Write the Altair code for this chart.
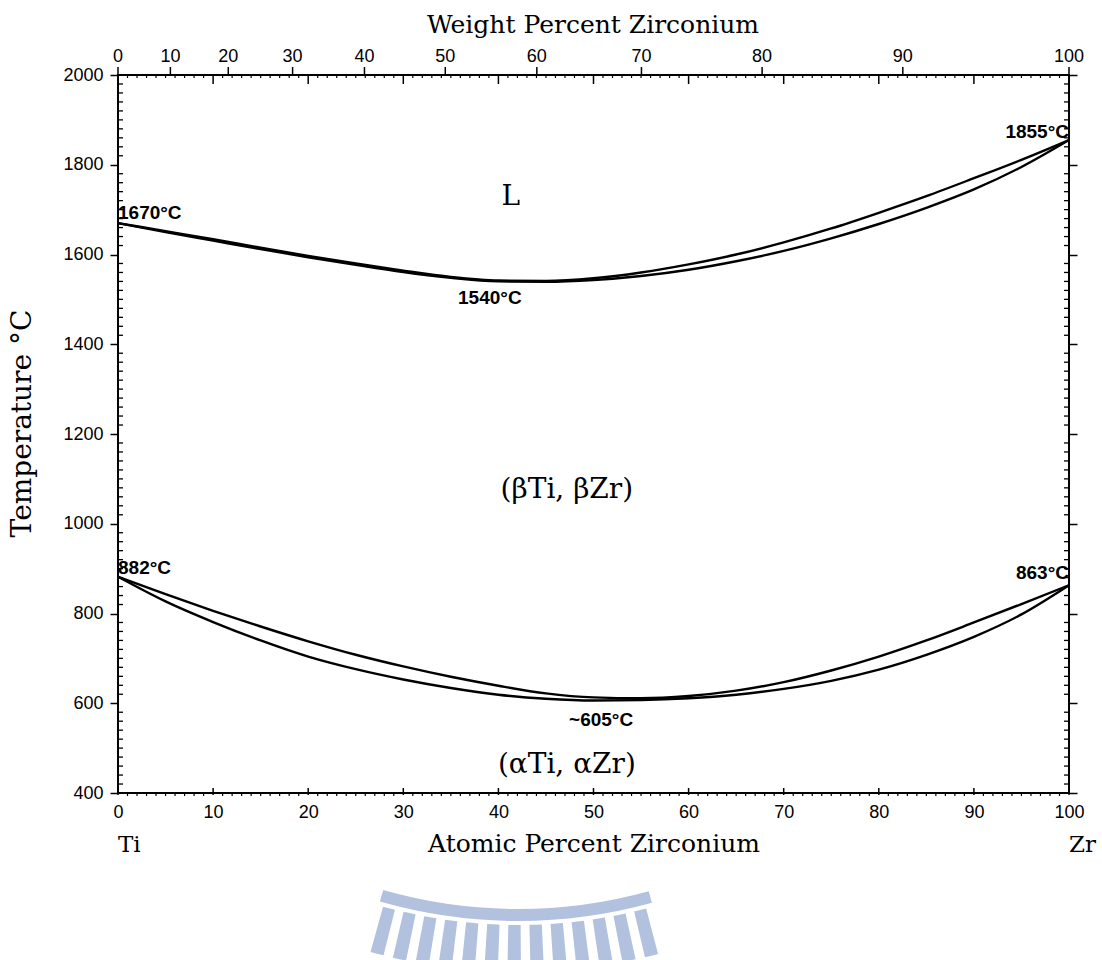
import altair as alt
import pandas as pd
import math

# ---------------- data ----------------
AT = [0, 5, 10, 15, 20, 25, 30, 35, 40, 45, 50, 55, 60, 65, 70, 75, 80, 85, 90, 95, 100]
LIQUIDUS = [1670, 1652, 1634, 1615, 1597, 1580, 1564, 1550, 1542, 1541, 1547, 1560, 1578, 1600, 1627, 1658, 1693, 1730, 1770, 1811, 1855]
SOLIDUS = [1670, 1650, 1631, 1612, 1594, 1577, 1561, 1548, 1540, 1539, 1543, 1552, 1566, 1585, 1608, 1636, 1668, 1704, 1745, 1795, 1855]
BETA_UPPER = [882, 843, 806, 771, 738, 708, 682, 659, 639, 622, 613, 611, 616, 628, 647, 673, 704, 740, 780, 821, 863]
BETA_LOWER = [882, 827, 781, 740, 704, 676, 653, 634, 619, 610, 606, 607, 611, 619, 632, 650, 675, 708, 748, 798, 863]

Y_MAJOR = [400, 600, 800, 1000, 1200, 1400, 1600, 1800, 2000]
X_MAJOR = [0, 10, 20, 30, 40, 50, 60, 70, 80, 90, 100]
WT_LABELS = [0, 10, 20, 30, 40, 50, 60, 70, 80, 90, 100]

ANN_TEXT = ["1670°C", "1540°C", "1855°C", "882°C", "~605°C", "863°C"]
ANN_X = [0, 39.1, 100, 0, 50.8, 100]
ANN_T = [1692, 1503, 1873, 901, 563, 890]
ANN_ALIGN = ["left", "center", "right", "left", "center", "right"]

PHASE_TEXT = ["L", "(βTi, βZr)", "(αTi, αZr)"]
PHASE_X = [41.3, 47.2, 47.2]
PHASE_T = [1728, 1075, 462]

# watermark (partial logo) bar angles, degrees from bottom
LOGO_BARS = [-14.0, -11.6, -9.2, -6.8, -4.4, -2.0, 0.4, 2.8, 5.2, 7.6, 10.0, 12.4, 14.8]

M_TI, M_ZR = 47.867, 91.224


def wt_to_at(w):
    a = w / M_ZR
    b = (100 - w) / M_TI
    return 100 * a / (a + b)


# ---------------- tables ----------------
rows = []
for name, vals in [("liq", LIQUIDUS), ("sol", SOLIDUS), ("bu", BETA_UPPER), ("bl", BETA_LOWER)]:
    for a, t in zip(AT, vals):
        rows.append({"curve": name, "at": a, "T": t})
curves = pd.DataFrame(rows)

ymin = pd.DataFrame({"v": [v for v in range(400, 2001, 20) if v % 200 != 0]})
xminor = pd.DataFrame({"v": [v for v in range(0, 101) if v % 10 != 0]})
xmajor = pd.DataFrame({"v": X_MAJOR})
wt = pd.DataFrame({"w": WT_LABELS, "at": [wt_to_at(w) for w in WT_LABELS], "lab": [str(w) for w in WT_LABELS]})
ann = pd.DataFrame({"t": ANN_TEXT, "at": ANN_X, "T": ANN_T, "al": ANN_ALIGN})
phase = pd.DataFrame({"t": PHASE_TEXT, "at": PHASE_X, "T": PHASE_T})

bars = pd.DataFrame({
    "a": [math.pi + math.radians(d - 0.7) for d in LOGO_BARS],
    "b": [math.pi + math.radians(d + 0.7) for d in LOGO_BARS],
})
band = pd.DataFrame({"a": [math.pi - math.radians(15.5)], "b": [math.pi + math.radians(16.0)]})

W, H = 951, 718
xs = alt.Scale(domain=[0, 100], nice=False, zero=False)
ys = alt.Scale(domain=[400, 2000], nice=False, zero=False)

xaxis = alt.Axis(values=X_MAJOR, orient="bottom", ticks=False, domain=False, grid=False,
                 labelFont="Liberation Sans", labelFontSize=18, labelColor="black",
                 labelPadding=10, labelFlush=False,
                 title="Atomic Percent Zirconium", titleFont="DejaVu Serif",
                 titleFontSize=25, titleFontWeight="normal", titleColor="black",
                 titlePadding=10)
yleft = alt.Axis(values=Y_MAJOR, orient="left", format="d", tickSize=8, tickWidth=1.5, tickColor="black",
                 domain=False, grid=False, labelFont="Liberation Sans", labelFontSize=18,
                 labelColor="black", labelPadding=7, labelFlush=False,
                 title="Temperature °C", titleFont="DejaVu Serif", titleFontSize=28,
                 titleFontWeight="normal", titleColor="black",
                 titleX=-96, titleY=348, titleBaseline="middle", titleAlign="center", titleAngle=270)
yright = alt.Axis(values=Y_MAJOR, orient="right", tickSize=8, tickWidth=1.5, tickColor="black",
                  domain=False, grid=False, labels=False, title=None)

lines = alt.Chart(curves).mark_line(color="black", strokeWidth=2.4, interpolate="monotone").encode(
    x=alt.X("at:Q", scale=xs, axis=xaxis),
    y=alt.Y("T:Q", scale=ys, axis=yleft),
    detail="curve:N",
)

left_minor = alt.Chart(ymin).mark_rule(color="black", strokeWidth=1.3).encode(
    y=alt.Y("v:Q", scale=ys, axis=None), x=alt.value(0), x2=alt.value(5))
right_minor = alt.Chart(ymin).mark_rule(color="black", strokeWidth=1.3).encode(
    y=alt.Y("v:Q", scale=ys, axis=yright), x=alt.value(W - 5), x2=alt.value(W))

bot_major = alt.Chart(xmajor).mark_rule(color="black", strokeWidth=1.5).encode(
    x=alt.X("v:Q", scale=xs, axis=None), y=alt.value(H - 5), y2=alt.value(H + 2))
bot_minor = alt.Chart(xminor).mark_rule(color="black", strokeWidth=1.2).encode(
    x=alt.X("v:Q", scale=xs, axis=None), y=alt.value(H), y2=alt.value(H + 3))
top_minor = alt.Chart(xminor).mark_rule(color="black", strokeWidth=1.2).encode(
    x=alt.X("v:Q", scale=xs, axis=None), y=alt.value(0), y2=alt.value(3))
top_major = alt.Chart(xmajor).mark_rule(color="black", strokeWidth=1.5).encode(
    x=alt.X("v:Q", scale=xs, axis=None), y=alt.value(0), y2=alt.value(9))
top_wt = alt.Chart(wt).mark_rule(color="black", strokeWidth=1.5).encode(
    x=alt.X("at:Q", scale=xs, axis=None), y=alt.value(-8), y2=alt.value(0))
top_lab = alt.Chart(wt).mark_text(font="Liberation Sans", fontSize=18, color="black",
                                  baseline="middle").encode(
    x=alt.X("at:Q", scale=xs, axis=None), y=alt.value(-18), text="lab:N")
top_title = alt.Chart(pd.DataFrame({"t": ["Weight Percent Zirconium"]})).mark_text(
    font="DejaVu Serif", fontSize=25, color="black", baseline="middle").encode(
    x=alt.value(475), y=alt.value(-50), text="t:N")

ti = alt.Chart(pd.DataFrame({"t": ["Ti"], "at": [0]})).mark_text(
    font="DejaVu Serif", fontSize=23, color="black", align="left", baseline="middle").encode(
    x=alt.X("at:Q", scale=xs, axis=None), y=alt.value(H + 52), text="t:N")
zr = alt.Chart(pd.DataFrame({"t": ["Zr"], "at": [100]})).mark_text(
    font="DejaVu Serif", fontSize=23, color="black", align="left", baseline="middle").encode(
    x=alt.X("at:Q", scale=xs, axis=None), y=alt.value(H + 52), text="t:N")

ann_layers = []
for al in ["left", "center", "right"]:
    ann_layers.append(
        alt.Chart(ann[ann["al"] == al]).mark_text(
            font="Liberation Sans", fontSize=19, fontWeight="bold", color="black",
            align=al, baseline="middle").encode(
            x=alt.X("at:Q", scale=xs, axis=None),
            y=alt.Y("T:Q", scale=ys, axis=None),
            text="t:N"))

phase_txt = alt.Chart(phase).mark_text(font="DejaVu Serif", fontSize=28, color="black",
                                       baseline="middle").encode(
    x=alt.X("at:Q", scale=xs, axis=None),
    y=alt.Y("T:Q", scale=ys, axis=None),
    text="t:N")

logo_bars = alt.Chart(bars).mark_arc(color="#b1c1de", innerRadius=505, outerRadius=552).encode(
    theta=alt.Theta("a:Q", scale=None), theta2="b:Q",
    x=alt.value(400), y=alt.value(345))
logo_band = alt.Chart(band).mark_arc(color="#b1c1de", innerRadius=489, outerRadius=501).encode(
    theta=alt.Theta("a:Q", scale=None), theta2="b:Q",
    x=alt.value(400), y=alt.value(345))

chart = alt.layer(
    lines, left_minor, right_minor, bot_major, bot_minor, top_minor, top_major,
    top_wt, top_lab, top_title, ti, zr, phase_txt, *ann_layers, logo_band, logo_bars
).resolve_axis(y="independent", x="independent").properties(
    width=W, height=H,
    autosize=alt.AutoSizeParams(type="none"),
    padding={"left": 118, "top": 75, "right": 33, "bottom": 167},
    background="white",
).configure_view(stroke="black", strokeWidth=2)

chart.save("out.html", embed_options={"renderer": "svg", "actions": False})
